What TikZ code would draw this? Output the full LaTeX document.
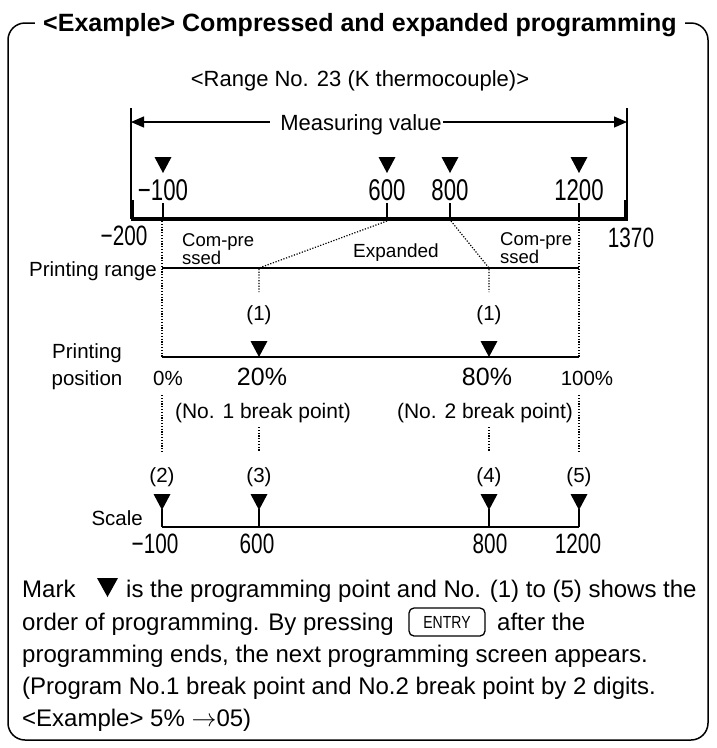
\documentclass[tikz,border=0pt]{standalone}
\usepackage{fontspec}
\setmainfont{Liberation Sans}
\newfontfamily\numfont[FakeStretch=0.74]{Liberation Sans}
\newfontfamily\keyfont[FakeStretch=0.8]{Liberation Sans}
\usetikzlibrary{arrows.meta}
\newcommand\setfs[1]{\fontsize{#1pt}{#1pt}\selectfont}
\tikzset{
  downtri/.pic={\fill (-8.5,0) -- (8.5,0) -- (0,16) -- cycle;},
  bigtri/.pic={\fill (-10.5,0) -- (10.5,0) -- (0,19) -- cycle;},
}
\begin{document}
\begin{tikzpicture}[x=1pt,y=-1pt,
  thinln/.style={line width=1.3pt},
  midln/.style={line width=2pt},
  thickln/.style={line width=3.5pt},
  tickln/.style={line width=1.5pt},
  dot/.style={line width=1.2pt, dash pattern=on 1.2pt off 1.6pt},
  lbl/.style={inner sep=0pt, anchor=base},
  num/.style={lbl, font=\numfont\setfs{30}},
  snum/.style={lbl, font=\numfont\setfs{28}},
  small/.style={lbl, font=\setfs{20.5}},
  big/.style={lbl, font=\setfs{25}},
  cmp/.style={lbl, anchor=base west, font=\setfs{18.5}},
  body/.style={lbl, anchor=base west, font=\setfs{24}},
  tip/.style={-{Triangle[length=13pt,width=11pt]}}
]
\useasboundingbox (0,0) rectangle (716,748);

% frame and title
\draw[line width=1.5pt, rounded corners=17pt] (8,23) rectangle (708,740);
\node[fill=white, inner xsep=8pt, inner ysep=3pt, anchor=base, font=\bfseries\setfs{25}] (title) at (360,31) {<Example> Compressed and expanded programming};

\node[lbl, font=\setfs{22}] (range) at (360,86) {<Range No. 23 (K thermocouple)>};

% measuring value dimension
\coordinate (vtl) at (131,108); \coordinate (vbl) at (131,219);
\coordinate (vtr) at (627,108); \coordinate (vbr) at (627,219);
\draw[thinln] (vtl) -- (vbl);
\draw[thinln] (vtr) -- (vbr);
\node[lbl, font=\setfs{22}] (mv) at (361,130) {Measuring value};
\coordinate (mvL) at (131,122); \coordinate (mvR) at (627,122);
\coordinate (gL) at (270,122); \coordinate (gR) at (443,122);
\draw[thinln, tip] (gL) -- (mvL);
\draw[thinln, tip] (gR) -- (mvR);

% axis
\draw[thickln] (131,219) -- (628,219);
\draw[thickln] (132.7,200) -- (132.7,221);
\draw[thickln] (625.8,200) -- (625.8,221);
\foreach \x/\t in {163/{−100},387/600,450/800,579/1200} {
  \draw[tickln] (\x,203) -- (\x,219);
  \pic at (\x,157) {downtri};
  \node[num] (ax\x) at (\x,200) {\t};
}
\node[snum] (m200) at (124,245) {−200};
\node[snum] (p1370) at (631,247) {1370};

% compressed / expanded labels
\node[cmp] (c1a) at (182,246) {Com-pre};
\node[cmp] (c1b) at (182,264) {ssed};
\node[cmp] (c2a) at (500,245) {Com-pre};
\node[cmp] (c2b) at (500,263) {ssed};
\node[lbl, font=\setfs{19}] (exp) at (396,257) {Expanded};

% printing range
\coordinate (prL) at (162,268); \coordinate (prR) at (579,268);
\draw[midln] (prL) -- (prR);
\node[lbl, anchor=base east, font=\setfs{20.5}] (prt) at (157,276) {Printing range};

\coordinate (d600) at (387,221); \coordinate (b1) at (259,268); \coordinate (b1e) at (259,292);
\coordinate (d800) at (451,221); \coordinate (b2) at (489,268); \coordinate (b2e) at (489,292);
\draw[dot] (d600) -- (b1) -- (b1e);
\draw[dot] (d800) -- (b2) -- (b2e);
\coordinate (ppL) at (162,357); \coordinate (ppR) at (579,357);
\draw[dot] (162,221) -- (ppL);
\draw[dot] (579,221) -- (ppR);

% printing position
\node[small] (one1) at (259,320) {(1)};
\node[small] (one2) at (489,320) {(1)};
\draw[midln] (ppL) -- (ppR);
\pic at (259,341) {downtri};
\pic at (489,341) {downtri};
\node[small] (pp1) at (87,358) {Printing};
\node[small] (pp2) at (87,385) {position};
\node[small] (p0) at (168,385) {0\%};
\node[big] (p20) at (262,385) {20\%};
\node[big] (p80) at (487,385) {80\%};
\node[small] (p100) at (587,385) {100\%};
\node[lbl, font=\setfs{21}] (bp1) at (263,418) {(No. 1 break point)};
\node[lbl, font=\setfs{21}] (bp2) at (485,418) {(No. 2 break point)};

\draw[dot] (162,395) -- (162,452);
\draw[dot] (579,395) -- (579,452);
\draw[dot] (259,427) -- (259,452);
\draw[dot] (489,427) -- (489,452);

% scale
\coordinate (scL) at (162,527); \coordinate (scR) at (579,527);
\draw[midln] (scL) -- (scR);
\foreach \x/\n in {162/2,259/3,489/4,579/5} {
  \node[small] (n\n) at (\x,482) {(\n)};
  \pic at (\x,494) {downtri};
  \draw[tickln] (\x,509) -- (\x,527);
}
\node[lbl, anchor=base east, font=\setfs{20.5}] (scale) at (143,525) {Scale};
\node[snum] (s1) at (155,553) {−100};
\node[snum] (s2) at (257,553) {600};
\node[snum] (s3) at (490,553) {800};
\node[snum] (s4) at (578,553) {1200};

% explanation text
\node[body] (t1a) at (22,597) {Mark};
\pic at (107.5,578) {bigtri};
\node[body] (t1b) at (126,597) {is the programming point and No. (1) to (5) shows the};
\node[body] (t2a) at (22,630) {order of programming. By pressing};
\node[draw, line width=1.3pt, rounded corners=5pt, minimum width=76pt, minimum height=28pt, inner sep=0pt, font=\keyfont\setfs{17.5}] (entry) at (447,622) {ENTRY};
\node[body] (t2b) at (497,630) {after the};
\node[body] (t3) at (22,662) {programming ends, the next programming screen appears.};
\node[body] (t4) at (22,694) {(Program No.1 break point and No.2 break point by 2 digits.};
\node[body] (t5) at (22,726) {<Example> 5\% \(\rightarrow\)05)};
\end{tikzpicture}
\end{document}
